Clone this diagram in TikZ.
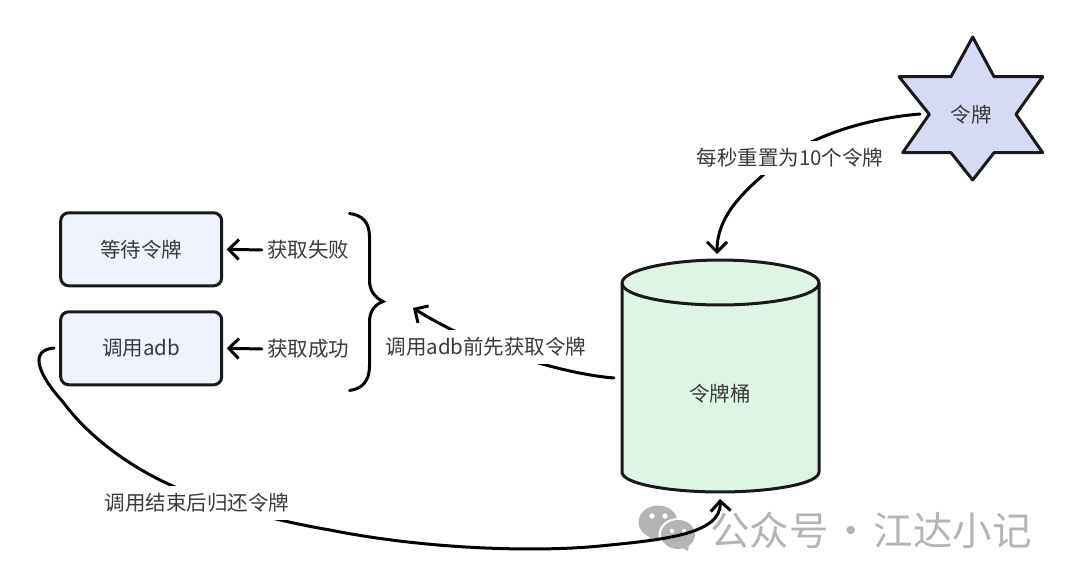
\documentclass[tikz,border=0pt]{standalone}
\usepackage{fontspec}
\setmainfont{Noto Sans CJK SC}
\usetikzlibrary{arrows.meta}
\definecolor{txt}{HTML}{3A3A3A}
\definecolor{boxfill}{HTML}{EFF3FD}
\definecolor{starfill}{HTML}{D6DBF3}
\definecolor{cylfill}{HTML}{DEF5E6}
\definecolor{wm}{HTML}{B4B4B4}
\tikzset{
  outline/.style={draw=black!90,line width=3pt,line join=round},
  roundbox/.style={outline,fill=boxfill,rounded corners=8pt,minimum width=161pt,minimum height=73pt,inner sep=0pt,text=txt,font=\fontsize{20.5}{22}\selectfont},
  lab/.style={text=txt,font=\fontsize{20.5}{22}\selectfont,inner sep=0pt},
  cutlab/.style={lab,fill=white,inner xsep=6pt,inner ysep=7pt},
  conn/.style={draw=black,line width=3pt,line cap=round,-{Straight Barb[length=10pt,width=20pt,line width=3pt]}},
}
\begin{document}
\begin{tikzpicture}[x=1pt,y=-1pt]
\useasboundingbox (0,0) rectangle (1080,588);
% watermark
\fill[wm] (658,522) ellipse (19.5 and 16.5);
\fill[wm] (650,541) -- (648,530) -- (658,532) -- cycle;
\fill[white] (678,535) ellipse (19.5 and 17);
\fill[wm] (678,534.5) ellipse (17 and 14.5);
\fill[wm] (688,551) -- (689,543) -- (679,546) -- cycle;
\fill[white] (652,516) circle (2.6) (665,516) circle (2.6) (672,531) circle (2.2) (684,531) circle (2.2);
\node[text=wm,font=\fontsize{39.5}{41}\selectfont,inner sep=0pt] (mark) at (871,530) {\spaceskip=0.07em 公众号 · 江达小记};
% star
\path[outline,fill=starfill] (972.7,37) -- (994,76.7) -- (1042.7,76.7) -- (1016,114.3) -- (1042.7,152.7) -- (994,152.7) -- (972.7,180) -- (951,152.7) -- (902.7,152.7) -- (929.3,114.3) -- (899,76.7) -- (951,76.7) -- cycle;
\node[lab] (token) at (971,115) {令牌};
\coordinate (starleft) at (920,114);
\coordinate (resetmid) at (775,165);
% cylinder
\path[outline,fill=cylfill] (622,283) -- (622,472) .. controls (622,484) and (670,492) .. (720,492) .. controls (770,492) and (819,484) .. (819,472) -- (819,283) .. controls (819,270) and (770,260) .. (720,260) .. controls (670,260) and (622,270) .. (622,283) -- cycle;
\path[outline] (622,283) .. controls (622,296) and (670,305) .. (720,305) .. controls (770,305) and (819,296) .. (819,283);
\node[lab] (bucket) at (720,394) {令牌桶};
\coordinate (bucketleft) at (614,378);
\coordinate (buckettop) at (717,254);
\coordinate (bucketbottom) at (720,499);
% boxes
\node[roundbox] (wait) at (141.2,249.3) {等待令牌};
\node[roundbox] (call) at (141.2,348.3) {调用adb};
% brace
\coordinate (bracetip) at (413,308);
\path[draw=black,line width=3pt,line cap=round,line join=miter] (349.5,213.5) .. controls (362,215) and (369.5,222) .. (369.5,237) -- (369.5,280) .. controls (369.5,290) and (374,297) .. (383,301.5) .. controls (374,305) and (369.5,312) .. (369.5,322) -- (369.5,366) .. controls (369.5,381) and (362,389) .. (349.5,390.5);
% status labels and arrows
\node[lab] (fail) at (308,250) {获取失败};
\node[lab] (succ) at (308,349) {获取成功};
\draw[conn] ([xshift=-5pt]fail.west) -- ([xshift=3.5pt]wait.east);
\draw[conn] ([xshift=-5pt]succ.west) -- ([xshift=3.5pt]call.east);
% curved connectors, labels on top
\draw[conn] (starleft) .. controls (870,118) and (810,135) .. (resetmid) .. controls (745,190) and (717,215) .. (buckettop);
\node[cutlab] (reset) at (790,158) {每秒重置为10个令牌};
\draw[conn] (bucketleft) .. controls (565,374) and (480,350) .. (bracetip);
\node[cutlab] (fetch) at (486,347) {调用adb前先获取令牌};
\coordinate (callleft) at (54,348);
\draw[conn] (callleft) .. controls (30,350) and (36,372) .. (63,402) .. controls (85,432) and (120,460) .. (160,480) .. controls (200,500) and (270,520) .. (330,530) .. controls (430,550) and (540,552) .. (600,546) .. controls (660,540) and (722,535) .. (bucketbottom);
\node[cutlab] (giveback) at (197,503) {调用结束后归还令牌};
\end{tikzpicture}
\end{document}
